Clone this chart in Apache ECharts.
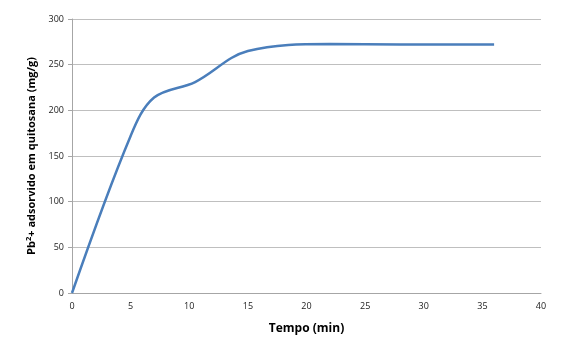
<!DOCTYPE html>
<html><head><meta charset="utf-8">
<script src="https://cdn.jsdelivr.net/npm/echarts@6/dist/echarts.min.js"></script>
<style>html,body{margin:0;padding:0;background:#fff}#c{width:570px;height:359px}</style>
</head><body><div id="c"></div>
<script>
const tempo = [0, 5, 7, 10.5, 15, 22, 28, 36];
const adsorvido = [0, 172, 214, 231, 265, 272.5, 272, 272];
const xTicks = [0, 5, 10, 15, 20, 25, 30, 35, 40];
const yTicks = [0, 50, 100, 150, 200, 250, 300];
const font = "'Open Sans', 'DejaVu Sans', sans-serif";
const chart = echarts.init(document.getElementById('c'));
chart.setOption({
  animation: false,
  grid: {left: 72, right: 29, top: 19, bottom: 66},
  xAxis: {
    type: 'value', min: xTicks[0], max: xTicks[xTicks.length-1], interval: 5,
    name: 'Tempo (min)', nameLocation: 'middle', nameGap: 30,
    nameTextStyle: {fontFamily: font, fontWeight: 'bold', fontSize: 12, color: '#000'},
    axisLine: {show: true, lineStyle: {color: '#a6a6a6', width: 1}},
    axisTick: {show: false},
    axisLabel: {fontFamily: font, fontSize: 9, color: '#222', margin: 9},
    splitLine: {show: false}
  },
  yAxis: {
    type: 'value', min: yTicks[0], max: yTicks[yTicks.length-1], interval: 50,
    name: '{n|Pb}{s|2}{n|+ adsorvido em quitosana (mg/g)}',
    nameLocation: 'middle', nameGap: 29,
    nameTextStyle: {
      rich: {
        n: {fontFamily: font, fontWeight: 'bold', fontSize: 11, color: '#000'},
        s: {fontFamily: font, fontWeight: 'bold', fontSize: 7.5, color: '#000', verticalAlign: 'top', padding: [0,0,6,0]}
      }
    },
    axisLine: {show: true, lineStyle: {color: '#a6a6a6', width: 1}},
    axisTick: {show: true, length: 4, lineStyle: {color: '#a6a6a6'}},
    axisLabel: {fontFamily: font, fontSize: 9, color: '#222', margin: 8},
    splitLine: {show: true, lineStyle: {color: '#bfbfbf', width: 1}}
  },
  series: [{
    type: 'line', smooth: 0.35, showSymbol: false,
    data: tempo.map((t, i) => [t, adsorvido[i]]),
    lineStyle: {color: '#4a7ebb', width: 2.5}
  }]
});
</script></body></html>
